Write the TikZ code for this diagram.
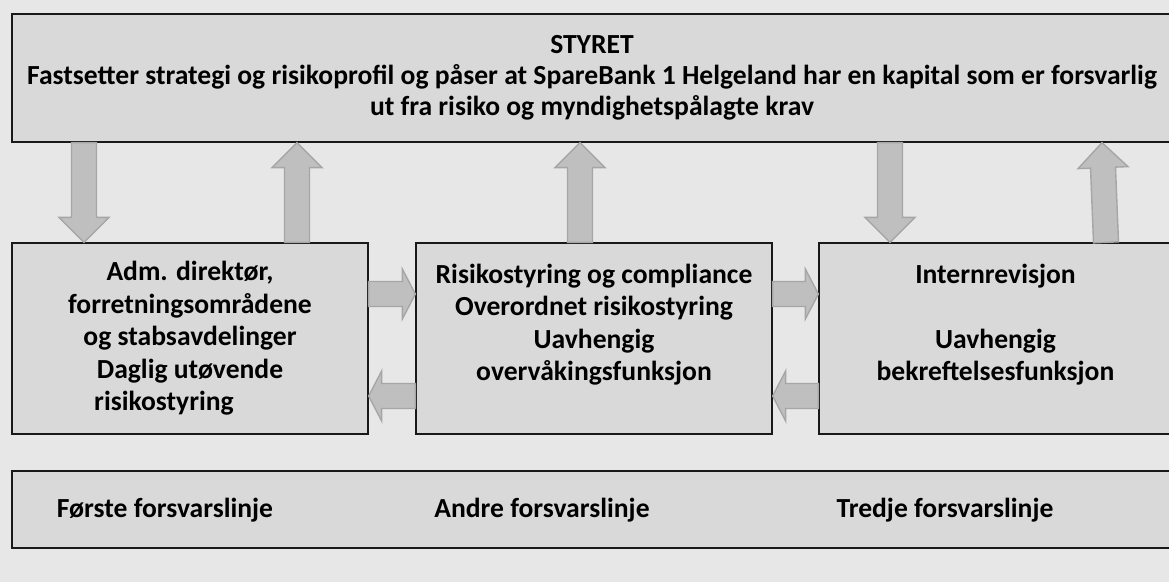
\documentclass[tikz,border=0pt]{standalone}
\usepackage{fontspec}
\setmainfont{Carlito}
\usetikzlibrary{calc}

\definecolor{bggray}{HTML}{E7E7E7}
\definecolor{boxgray}{HTML}{D9D9D9}
\definecolor{arrowgray}{HTML}{BFBFBF}
\definecolor{arrowline}{HTML}{A6A6A6}

\tikzset{
  box/.style={draw=black!90, fill=boxgray, line width=1.3pt, inner sep=0pt,
    align=center, font=\fontsize{27.6}{32.5}\selectfont\bfseries},
  linelabel/.style={font=\fontsize{27.6}{32}\selectfont\bfseries, inner sep=0pt},
  blockarrow/.style={draw=arrowline, fill=arrowgray, line width=1.4pt, line join=miter}
}

% block arrow from #2 to #3, #1 = head length
\newcommand{\blkarrow}[3][25pt]{%
  \path (#2) coordinate (ba) (#3) coordinate (bb);
  \coordinate (bc) at ($(bb)!#1!(ba)$);
  \draw[blockarrow] ($(ba)!12.5pt!90:(bb)$) -- ($(bc)!12.5pt!90:(bb)$)
    -- ($(bc)!25pt!90:(bb)$) -- (bb) -- ($(bc)!25pt!-90:(bb)$)
    -- ($(bc)!12.5pt!-90:(bb)$) -- ($(ba)!12.5pt!-90:(bb)$) -- cycle;
}

\begin{document}
\begin{tikzpicture}[x=1pt,y=-1pt]
  \fill[bggray] (0,0) rectangle (1169,582);
  \useasboundingbox (0,0) rectangle (1169,582);
  \clip (0,0) rectangle (1169,582);

  % Define boxes
  \node[box, minimum width=1160pt, minimum height=128pt,
    font=\fontsize{27.6}{31}\selectfont\bfseries] (styret) at (592,78)
    {STYRET\\ Fastsetter strategi og risikoprofil og påser at SpareBank 1 Helgeland har en kapital som er forsvarlig\\ ut fra risiko og myndighetspålagte krav};
  \node[box, minimum width=356pt, minimum height=191pt] (adm) at (190,338.5)
    {Adm. direktør,\\ forretningsområdene\\ og stabsavdelinger\\ Daglig utøvende\\ risikostyring\hspace*{52pt}};
  \node[box, minimum width=356pt, minimum height=191pt] (risk) at (594,338.5)
    {Risikostyring og compliance\\ Overordnet risikostyring\\ Uavhengig\\ overvåkingsfunksjon\\ \mbox{}};
  \node[box, minimum width=353pt, minimum height=191pt] (intern) at (995.5,338.5)
    {Internrevisjon\\ \mbox{}\\ Uavhengig\\ bekreftelsesfunksjon\\ \mbox{}};
  \node[box, minimum width=1160pt, minimum height=77pt] (linjer) at (592,509.5) {};

  % Lines of defence
  \node[linelabel] (forste) at (165,510) {Første forsvarslinje};
  \node[linelabel] (andre) at (542,510) {Andre forsvarslinje};
  \node[linelabel] (tredje) at (945,510) {Tredje forsvarslinje};

  % Draw arrows
  \blkarrow{styret.south -| 84,0}{adm.north -| 84,0}
  \blkarrow{adm.north -| 297,0}{styret.south -| 297,0}
  \blkarrow{risk.north -| 580,0}{styret.south -| 580,0}
  \blkarrow{styret.south -| 890,0}{intern.north -| 890,0}
  \blkarrow{intern.north -| 1106,0}{styret.south -| 1102,0}
  \blkarrow[13pt]{adm.east |- 0,294}{risk.west |- 0,294}
  \blkarrow[13pt]{risk.east |- 0,294}{intern.west |- 0,294}
  \blkarrow[13pt]{intern.west |- 0,396}{risk.east |- 0,396}
  \blkarrow[13pt]{risk.west |- 0,396}{adm.east |- 0,396}

\end{tikzpicture}
\end{document}
